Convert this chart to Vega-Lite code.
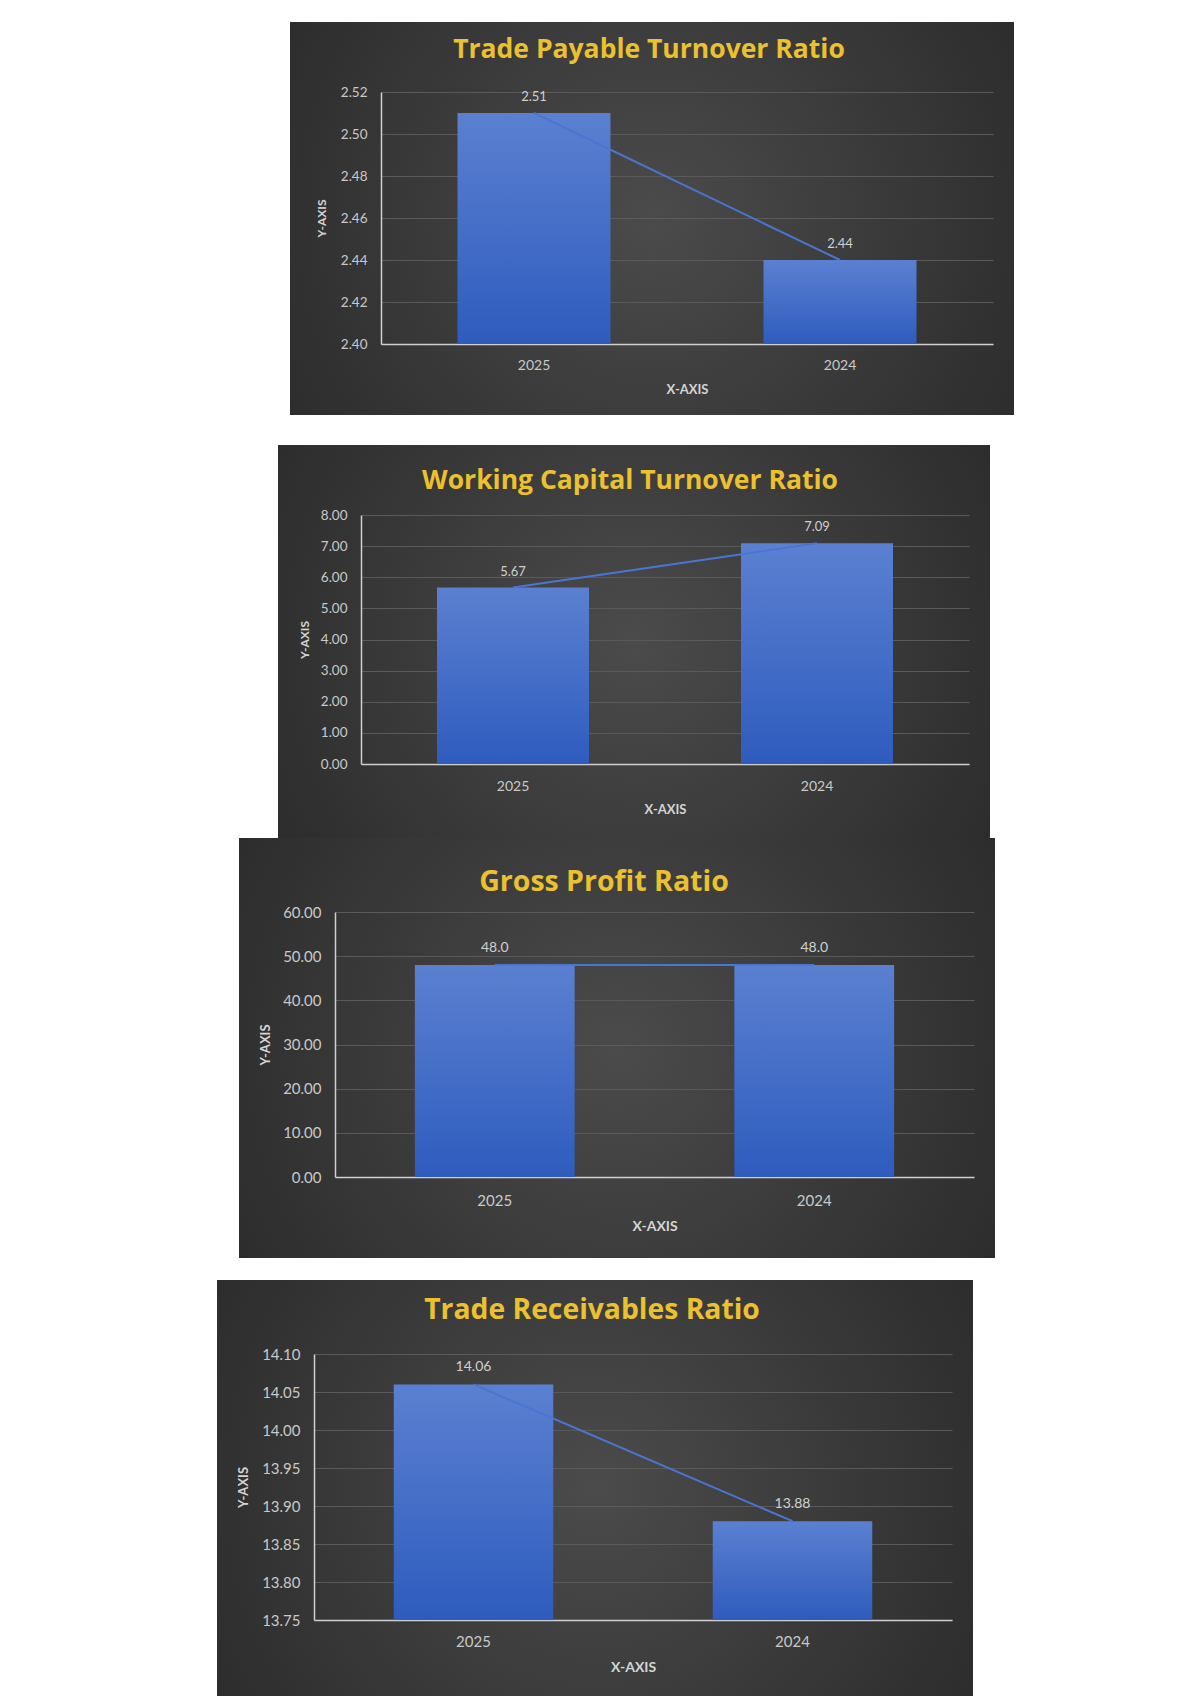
{
  "$schema": "https://vega.github.io/schema/vega-lite/v6.json",
  "background": "white",
  "padding": {"left": 217, "top": 22, "right": 0, "bottom": 0},
  "spacing": 0,
  "config": {
    "view": {"stroke": null},
    "axis": {
      "labelFont": "Lato", "titleFont": "Lato", "labelColor": "#c9c9c9", "titleColor": "#d4d4d4",
      "domainColor": "#d0d0d0", "domainWidth": 1.5, "gridColor": "#5a5a5a", "gridWidth": 1,
      "ticks": false, "titleFontWeight": "bold", "titleFontSize": 12, "labelOverlap": false
    },
    "axisX": {"grid": false, "labelAngle": 0, "labelBaseline": "middle", "titleBaseline": "middle", "labelFontSize": 14, "titleFontSize": 13},
    "axisY": {"grid": true, "labelPadding": 14, "titleBaseline": "middle", "titleAngle": 270},
    "title": {"font": "Open Sans", "fontWeight": "bold", "color": "#EBC12F", "frame": "group", "anchor": "middle", "baseline": "middle", "fontSize": 26.5, "dx": -3},
    "text": {"font": "Lato", "color": "#d0d0d0", "fontSize": 13},
    "line": {"color": "#4a76d2", "strokeWidth": 2},
    "bar": {"color": {"gradient": "linear", "x1": 0, "y1": 0, "x2": 0, "y2": 1, "stops": [{"offset": 0, "color": "#5b80d1"}, {"offset": 1, "color": "#2e5cbe"}]}}
  },
  "datasets": {
    "payable": [{"year": "2025", "value": 2.51}, {"year": "2024", "value": 2.44}],
    "working": [{"year": "2025", "value": 5.67}, {"year": "2024", "value": 7.09}],
    "gross": [{"year": "2025", "value": 48.0}, {"year": "2024", "value": 48.0}],
    "receivables": [{"year": "2025", "value": 14.06}, {"year": "2024", "value": 13.88}]
  },
  "vconcat": [
    {
      "spacing": 30,
      "vconcat": [
        {
          "spacing": 0,
          "hconcat": [
            {"width": 73, "height": 100, "data": {"values": [{"a": 1}]}, "mark": {"type": "point", "opacity": 0, "size": 1}},
            {
              "width": 724, "height": 393,
              "view": {"fill": {"gradient": "radial", "x1": 0.5, "y1": 0.5, "r1": 0, "x2": 0.5, "y2": 0.5, "r2": 0.75, "stops": [{"offset": 0, "color": "#4b4b4b"}, {"offset": 1, "color": "#232323"}]}},
              "title": {"text": "Trade Payable Turnover Ratio", "offset": -41},
              "data": {"name": "payable"},
              "encoding": {
                "x": {"field": "year", "type": "nominal", "sort": null,
                  "scale": {"range": [91, 703], "paddingInner": 0.5, "paddingOuter": 0.25},
                  "axis": {"title": "X-AXIS", "offset": -71, "labelPadding": 21, "titleY": 45}}
              },
              "layer": [
                {"mark": "bar", "encoding": {
                  "y": {"field": "value", "type": "quantitative",
                    "scale": {"domain": [2.40, 2.52], "range": [322, 70], "nice": false, "zero": false},
                    "axis": {"title": "Y-AXIS", "offset": -91, "values": [2.40, 2.42, 2.44, 2.46, 2.48, 2.50, 2.52], "format": ".2f", "labelFontSize": 13.5, "titleX": -60}},
                  "y2": {"datum": 2.40}}},
                {"mark": "line", "encoding": {"y": {"field": "value", "type": "quantitative"}}},
                {"mark": {"type": "text", "dy": -16}, "encoding": {"y": {"field": "value", "type": "quantitative"}, "text": {"field": "value", "format": ".2f"}}}
              ]
            }
          ]
        },
        {
          "spacing": 0,
          "hconcat": [
            {"width": 61, "height": 100, "data": {"values": [{"a": 1}]}, "mark": {"type": "point", "opacity": 0, "size": 1}},
            {
              "width": 712, "height": 393,
              "view": {"fill": {"gradient": "radial", "x1": 0.5, "y1": 0.5, "r1": 0, "x2": 0.5, "y2": 0.5, "r2": 0.75, "stops": [{"offset": 0, "color": "#4b4b4b"}, {"offset": 1, "color": "#232323"}]}},
              "title": {"text": "Working Capital Turnover Ratio", "offset": -49, "dx": -4},
              "data": {"name": "working"},
              "encoding": {
                "x": {"field": "year", "type": "nominal", "sort": null,
                  "scale": {"range": [83, 691], "paddingInner": 0.5, "paddingOuter": 0.25},
                  "axis": {"title": "X-AXIS", "offset": -74, "labelPadding": 22, "titleY": 45}}
              },
              "layer": [
                {"mark": "bar", "encoding": {
                  "y": {"field": "value", "type": "quantitative",
                    "scale": {"domain": [0, 8], "range": [319, 70], "nice": false},
                    "axis": {"title": "Y-AXIS", "offset": -83, "values": [0, 1, 2, 3, 4, 5, 6, 7, 8], "format": ".2f", "labelFontSize": 13.5, "titleX": -57}},
                  "y2": {"datum": 0}}},
                {"mark": "line", "encoding": {"y": {"field": "value", "type": "quantitative"}}},
                {"mark": {"type": "text", "dy": -16}, "encoding": {"y": {"field": "value", "type": "quantitative"}, "text": {"field": "value", "format": ".2f"}}}
              ]
            }
          ]
        }
      ]
    },
    {
      "spacing": 22,
      "vconcat": [
        {
          "spacing": 0,
          "hconcat": [
            {"width": 22, "height": 100, "data": {"values": [{"a": 1}]}, "mark": {"type": "point", "opacity": 0, "size": 1}},
            {
              "width": 756, "height": 420,
              "view": {"fill": {"gradient": "radial", "x1": 0.5, "y1": 0.5, "r1": 0, "x2": 0.5, "y2": 0.5, "r2": 0.75, "stops": [{"offset": 0, "color": "#4b4b4b"}, {"offset": 1, "color": "#232323"}]}},
              "title": {"text": "Gross Profit Ratio", "offset": -58, "fontSize": 28.5, "dx": -13},
              "data": {"name": "gross"},
              "encoding": {
                "x": {"field": "year", "type": "nominal", "sort": null,
                  "scale": {"range": [96, 735], "paddingInner": 0.5, "paddingOuter": 0.25},
                  "axis": {"title": "X-AXIS", "offset": -81, "labelPadding": 23, "titleY": 49, "labelFontSize": 15, "titleFontSize": 14}}
              },
              "layer": [
                {"mark": "bar", "encoding": {
                  "y": {"field": "value", "type": "quantitative",
                    "scale": {"domain": [0, 60], "range": [339, 74], "nice": false},
                    "axis": {"title": "Y-AXIS", "offset": -96, "values": [0, 10, 20, 30, 40, 50, 60], "format": ".2f", "labelFontSize": 15, "titleX": -70, "titleFontSize": 13}},
                  "y2": {"datum": 0}}},
                {"mark": "line", "encoding": {"y": {"field": "value", "type": "quantitative"}}},
                {"mark": {"type": "text", "dy": -17, "fontSize": 14}, "encoding": {"y": {"field": "value", "type": "quantitative"}, "text": {"field": "value", "format": ".1f"}}}
              ]
            }
          ]
        },
        {
          "width": 756, "height": 416,
          "view": {"fill": {"gradient": "radial", "x1": 0.5, "y1": 0.5, "r1": 0, "x2": 0.5, "y2": 0.5, "r2": 0.75, "stops": [{"offset": 0, "color": "#4b4b4b"}, {"offset": 1, "color": "#232323"}]}},
          "title": {"text": "Trade Receivables Ratio", "offset": -45, "fontSize": 28.3},
          "data": {"name": "receivables"},
          "encoding": {
            "x": {"field": "year", "type": "nominal", "sort": null,
              "scale": {"range": [97, 735], "paddingInner": 0.5, "paddingOuter": 0.25},
              "axis": {"title": "X-AXIS", "offset": -76, "labelPadding": 21, "titleY": 47, "labelFontSize": 15, "titleFontSize": 14}}
          },
          "layer": [
            {"mark": "bar", "encoding": {
              "y": {"field": "value", "type": "quantitative",
                "scale": {"domain": [13.75, 14.10], "range": [340, 74], "nice": false, "zero": false},
                "axis": {"title": "Y-AXIS", "offset": -97, "values": [13.75, 13.80, 13.85, 13.90, 13.95, 14.00, 14.05, 14.10], "format": ".2f", "labelFontSize": 15, "titleX": -71, "titleFontSize": 13}},
              "y2": {"datum": 13.75}}},
            {"mark": "line", "encoding": {"y": {"field": "value", "type": "quantitative"}}},
            {"mark": {"type": "text", "dy": -17, "fontSize": 14}, "encoding": {"y": {"field": "value", "type": "quantitative"}, "text": {"field": "value", "format": ".2f"}}}
          ]
        }
      ]
    }
  ]
}
